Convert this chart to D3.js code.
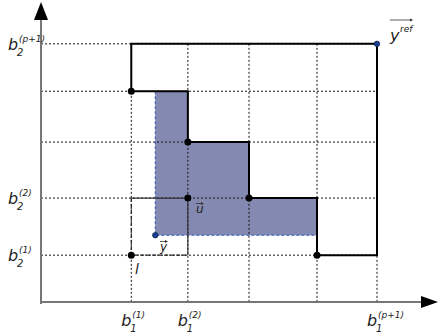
<!DOCTYPE html>
<html>
<head>
<meta charset="utf-8">
<script src="https://cdn.jsdelivr.net/npm/d3@7"></script>
<style>
  html, body { margin: 0; padding: 0; background: #fff; }
  svg { display: block; }
  text { font-family: "DejaVu Sans", sans-serif; font-style: italic; fill: #222; }
</style>
</head>
<body>
<div id="chart"></div>
<script>
// breakpoints along each objective
const b1 = [1.58, 2.57, 3.64, 4.83, 5.88];
const b2 = [0.82, 1.82, 2.80, 3.69, 4.52];

// nondominated points forming the staircase
const staircase = [
    { x: 1.58, y: 3.69 },
    { x: 2.57, y: 2.80 },
    { x: 3.64, y: 1.82 },
    { x: 4.83, y: 0.82 }
];
const refPoint = { x: 5.88, y: 4.52 };
const yPoint = { x: 2.0, y: 1.17 };
const lPoint = { x: 1.58, y: 0.82 };
const uPoint = { x: 2.57, y: 1.82 };

// axis labels: [sub, sup]
const xLabels = [["1", "(1)"], ["1", "(2)"], ["1", "(p+1)"]];
const xLabelAt = [1.58, 2.57, 5.88];
const yLabels = [["2", "(1)"], ["2", "(2)"], ["2", "(p+1)"]];
const yLabelAt = [0.82, 1.82, 4.52];

const width = 438, height = 333;

const svg = d3.select("#chart").append("svg")
    .attr("width", width)
    .attr("height", height);

const x = d3.scaleLinear().domain([0, 7]).range([41, 441]);
const y = d3.scaleLinear().domain([0, 5.2]).range([302, 5]);

const x0 = x(0), y0 = y(0);
const xMax = x(refPoint.x), yMax = y(refPoint.y);

// shaded region dominated by y and not by the staircase
const shade = [
    [yPoint.x, staircase[0].y],
    [staircase[1].x, staircase[0].y],
    [staircase[1].x, staircase[1].y],
    [staircase[2].x, staircase[1].y],
    [staircase[2].x, staircase[2].y],
    [staircase[3].x, staircase[2].y],
    [staircase[3].x, yPoint.y],
    [yPoint.x, yPoint.y]
];
svg.append("path")
    .attr("d", d3.line().x(d => x(d[0])).y(d => y(d[1]))(shade) + "Z")
    .attr("fill", "#8389b0");

// dashed blue border on left and bottom of the shaded box
svg.append("path")
    .attr("d", d3.line().x(d => x(d[0])).y(d => y(d[1]))([
        [yPoint.x, staircase[0].y], [yPoint.x, yPoint.y], [staircase[3].x, yPoint.y]
    ]))
    .attr("fill", "none")
    .attr("stroke", "#2a55b8")
    .attr("stroke-width", 1)
    .attr("stroke-dasharray", "3,2");

// dotted grid
const grid = svg.append("g")
    .attr("stroke", "#111")
    .attr("stroke-width", 1)
    .attr("stroke-dasharray", "2,2");
grid.selectAll("line.v").data(b1).enter().append("line")
    .attr("x1", d => x(d)).attr("x2", d => x(d))
    .attr("y1", yMax).attr("y2", y0);
grid.selectAll("line.h").data(b2).enter().append("line")
    .attr("x1", x0).attr("x2", xMax)
    .attr("y1", d => y(d)).attr("y2", d => y(d));

// box between l and u
svg.append("path")
    .attr("d", `M${x(lPoint.x)},${y(uPoint.y)} L${x(uPoint.x)},${y(uPoint.y)} L${x(uPoint.x)},${y(lPoint.y)}`)
    .attr("fill", "none").attr("stroke", "#333").attr("stroke-width", 1.2);
svg.append("path")
    .attr("d", `M${x(lPoint.x)},${y(uPoint.y)} L${x(lPoint.x)},${y(lPoint.y)} L${x(uPoint.x)},${y(lPoint.y)}`)
    .attr("fill", "none").attr("stroke", "#222").attr("stroke-width", 1.2)
    .attr("stroke-dasharray", "4,2");

// staircase outline up to the reference point
const outline = [[staircase[0].x, staircase[0].y], [staircase[0].x, refPoint.y], [refPoint.x, refPoint.y], [refPoint.x, staircase[3].y]];
for (let i = staircase.length - 1; i >= 0; i--) {
    const s = staircase[i];
    outline.push([s.x, s.y]);
    if (i > 0) outline.push([s.x, staircase[i - 1].y]);
}
svg.append("path")
    .attr("d", d3.line().x(d => x(d[0])).y(d => y(d[1]))(outline) + "Z")
    .attr("fill", "none")
    .attr("stroke", "#000")
    .attr("stroke-width", 2);

// axes
svg.append("line").attr("x1", x0).attr("x2", 428).attr("y1", y0).attr("y2", y0)
    .attr("stroke", "#777").attr("stroke-width", 2);
svg.append("line").attr("x1", x0).attr("x2", x0).attr("y1", y0 + 2).attr("y2", 16)
    .attr("stroke", "#777").attr("stroke-width", 2);
svg.append("path").attr("d", `M${x0},2 L${x0 - 7},20 L${x0 + 7},20 Z`).attr("fill", "#000");
svg.append("path").attr("d", `M438,${y0} L421,${y0 - 6} L421,${y0 + 6} Z`).attr("fill", "#000");

// points
const blackPts = staircase.concat([uPoint, lPoint]);
svg.selectAll("circle.blk").data(blackPts).enter().append("circle")
    .attr("cx", d => x(d.x)).attr("cy", d => y(d.y)).attr("r", 3.5).attr("fill", "#000");
svg.selectAll("circle.blu").data([yPoint, refPoint]).enter().append("circle")
    .attr("cx", d => x(d.x)).attr("cy", d => y(d.y)).attr("r", 2.8)
    .attr("fill", "#1a3f8f").attr("stroke", "#0a1a40").attr("stroke-width", 0.6);

// b labels
function bLabel(px, py, sub, sup) {
    const g = svg.append("g");
    g.append("text").attr("x", px).attr("y", py).attr("font-size", 16).text("b");
    g.append("text").attr("x", px + 9).attr("y", py + 6).attr("font-size", 10).attr("font-style", "normal").text(sub);
    g.append("text").attr("x", px + 11).attr("y", py - 8).attr("font-size", 9).text(sup);
}
xLabels.forEach((l, i) => bLabel(x(xLabelAt[i]) - 10, 326, l[0], l[1]));
yLabels.forEach((l, i) => bLabel(8, y(yLabelAt[i]) + 6, l[0], l[1]));

// vector labels
function vecLabel(px, py, t, size, sup, ay) {
    const g = svg.append("g");
    g.append("text").attr("x", px).attr("y", py).attr("font-size", size).text(t);
    const w = sup ? 22 : 7;
    const yy = py - ay;
    g.append("line").attr("x1", px).attr("x2", px + w).attr("y1", yy).attr("y2", yy)
        .attr("stroke", "#333").attr("stroke-width", 0.8);
    g.append("path").attr("d", `M${px + w + 1},${yy} l-3,-1.6 l0,3.2 Z`).attr("fill", "#333");
    if (sup) g.append("text").attr("x", px + 10).attr("y", py - 9).attr("font-size", 9).text(sup);
}
vecLabel(390, 41, "y", 16, "ref", 21);
vecLabel(196, 213, "u", 12, null, 9.5);
vecLabel(160, 251, "y", 12, null, 9.5);
svg.append("text").attr("x", 135).attr("y", 274).attr("font-size", 14).text("l");
</script>
</body>
</html>
